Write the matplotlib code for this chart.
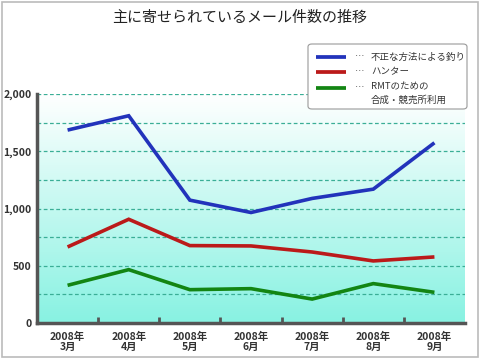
import matplotlib
matplotlib.use("Agg")
import matplotlib.pyplot as plt
import numpy as np
from matplotlib.lines import Line2D
from matplotlib.patches import Rectangle, FancyBboxPatch

plt.rcParams['font.family'] = ['Noto Sans CJK JP', 'DejaVu Sans']

title = "主に寄せられているメール件数の推移"
months = ["2008年\n3月", "2008年\n4月", "2008年\n5月", "2008年\n6月",
          "2008年\n7月", "2008年\n8月", "2008年\n9月"]
series_names = ["不正な方法による釣り", "ハンター", "RMTのための\n合成・競売所利用"]
fraud = [1685, 1810, 1073, 965, 1088, 1169, 1574]
hunter = [664, 906, 676, 673, 620, 542, 577]
rmt = [329, 466, 291, 300, 209, 344, 268]
colors = ["#2233bb", "#bb1a1a", "#138513"]
yticks = [0, 500, 1000, 1500, 2000]
ytick_labels = ["0", "500", "1,000", "1,500", "2,000"]

W, H = 480, 360
fig = plt.figure(figsize=(4.8, 3.6), dpi=100)
fig.patch.set_facecolor("white")

def fx(px):
    return px / W

def fy(py):
    return 1 - py / H

fig.patches.append(Rectangle((fx(2), fy(357)), 476/W, 355/H, transform=fig.transFigure,
                             fill=False, edgecolor="#bbbbbb", linewidth=1.2))

ax = fig.add_axes([fx(37), fy(323), (465-37)/W, (323-94)/H])
x = np.arange(len(months))
ax.set_xlim(-0.5, len(months)-0.5)
ax.set_ylim(0, 2000)

# gradient background
top = np.array([1.0, 1.0, 1.0])
bot = np.array([0x88, 0xf2, 0xe2]) / 255.0
t = np.linspace(0, 1, 256)[:, None]
grad = (top * (1 - t) + bot * t)[:, None, :]
grad = np.repeat(grad, 2, axis=1)
ax.imshow(grad, extent=[-0.5, len(months)-0.5, 0, 2000], aspect="auto", zorder=0, origin="upper")

for yv in np.arange(250, 2001, 250):
    ax.axhline(yv, color="#3aae96", linewidth=0.9, linestyle=(0, (3, 2)), zorder=1)

for vals, c in zip([fraud, hunter, rmt], colors):
    ax.plot(x, vals, color=c, linewidth=2.6, solid_joinstyle="miter", solid_capstyle="butt", zorder=3)

for s in ["top", "right"]:
    ax.spines[s].set_visible(False)
for s in ["left", "bottom"]:
    ax.spines[s].set_color("#555555")
    ax.spines[s].set_linewidth(2.5)

ax.set_yticks(yticks)
ax.set_yticklabels(ytick_labels, fontsize=7.5, color="#333333", fontweight="bold")
ax.tick_params(axis="y", length=0, pad=4)
ax.set_xticks(x)
ax.set_xticklabels(months, fontsize=7.5, color="#333333", fontweight="bold", linespacing=1.0)
ax.tick_params(axis="x", length=0, pad=6)
ax.set_xticks(np.arange(0.5, len(months)-0.5, 1), minor=True)
ax.tick_params(axis="x", which="minor", direction="in", length=4, width=2, color="#555555")

fig.text(0.5, fy(18), title, ha="center", va="center", fontsize=10.8, color="#222222")

# legend (manual)
box = FancyBboxPatch((fx(308), fy(109)), (467-308)/W, (109-44)/H, transform=fig.transFigure,
                     boxstyle="round,pad=0,rounding_size=0.008", facecolor="white",
                     edgecolor="#999999", linewidth=0.8, zorder=5)
fig.patches.append(box)
handle_y = [57, 72, 88]
text_y = [[57], [72], [87, 100]]
for c, hy, name, tys in zip(colors, handle_y, series_names, text_y):
    fig.lines.append(Line2D([fx(316), fx(346)], [fy(hy), fy(hy)], transform=fig.transFigure,
                            color=c, linewidth=2.7, solid_capstyle="butt", zorder=6))
    fig.text(fx(354), fy(hy), "…", ha="left", va="center", fontsize=6.8, color="#333333", zorder=6)
    for part, ty in zip(name.split("\n"), tys):
        fig.text(fx(371), fy(ty), part, ha="left", va="center", fontsize=6.8, color="#333333", zorder=6)

fig.savefig("out.png", dpi=100)
